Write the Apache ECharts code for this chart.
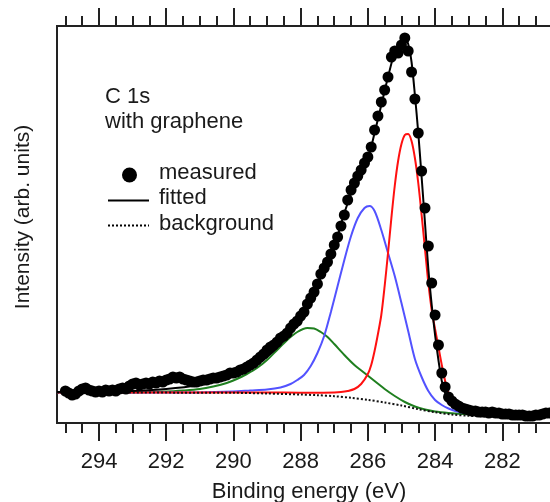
<!DOCTYPE html>
<html>
<head>
<meta charset="utf-8">
<script src="https://cdn.jsdelivr.net/npm/echarts@6/dist/echarts.min.js"></script>
<style>
html,body{margin:0;padding:0;background:#fff;}
#chart{width:550px;height:502px;}
</style>
</head>
<body>
<div id="chart"></div>
<script>
// ---- data (binding energy in eV, intensity in arbitrary units) ----
const measuredEnergy = [
295.0,294.9,294.8,294.7,294.6,294.5,294.4,294.3,294.2,294.1,
294.0,293.9,293.8,293.7,293.6,293.5,293.4,293.3,293.2,293.1,
293.0,292.9,292.8,292.7,292.6,292.5,292.4,292.3,292.2,292.1,
292.0,291.9,291.8,291.7,291.6,291.5,291.4,291.3,291.2,291.1,
291.0,290.9,290.8,290.7,290.6,290.5,290.4,290.3,290.2,290.1,
290.0,289.9,289.8,289.7,289.6,289.5,289.4,289.3,289.2,289.1,
289.0,288.9,288.8,288.7,288.6,288.5,288.4,288.3,288.2,288.1,
288.0,287.9,287.8,287.7,287.6,287.5,287.4,287.3,287.2,287.1,
287.0,286.9,286.8,286.7,286.6,286.5,286.4,286.3,286.2,286.1,
286.0,285.9,285.8,285.7,285.6,285.5,285.4,285.3,285.2,285.1,
285.0,284.9,284.8,284.7,284.6,284.5,284.4,284.3,284.2,284.1,
284.0,283.9,283.8,283.7,283.6,283.5,283.4,283.3,283.2,283.1,
283.0,282.9,282.8,282.7,282.6,282.5,282.4,282.3,282.2,282.1,
282.0,281.9,281.8,281.7,281.6,281.5,281.4,281.3,281.2,281.1,
281.0,280.9,280.8,280.7,280.6
];
const measuredIntensity = [
32,30,28,29,32,34,35,33,32,31,
32,31,33,32,33,32,34,35,34,37,
39,40,38,39,40,39,41,40,42,41,
43,44,46,45,46,44,43,42,41,41,
42,43,43,44,45,45,46,47,48,50,
50,51,53,54,56,58,60,63,66,69,
73,76,78,81,85,87,90,95,99,102,
107,111,119,125,131,139,149,155,161,169,
178,186,197,208,223,233,240,247,253,260,
266,276,293,307,321,333,346,366,372,370,
378,385,372,351,324,290,252,215,177,140,
108,78,50,36,26,22,19,17,15,14,
13,12,12,11,11,11,10,11,10,10,
9,9,9,8,8,8,8,7,7,7,
8,8,9,10,10
];

const fittedEnergy = [295.25,294.0,293.0,292.0,291.0,290.5,290.0,289.5,289.0,288.6,288.2,287.9,287.6,287.3,287.0,286.7,286.4,286.2,286.0,285.8,285.6,285.4,285.2,285.05,284.9,284.8,284.7,284.6,284.5,284.4,284.3,284.2,284.1,284.0,283.9,283.8,283.7,283.6,283.5,283.3,283.0,282.6,282.0,281.0,280.6];
const fittedIntensity = [31,31,32,34,38,42,47,55,66,79,96,112,132,152,176,210,238,252,264,290,318,346,371,380,384,379,361,328,290,246,200,154,118,88,63,42,30,23,19,15,12.5,11,9.5,8.5,8];

const redEnergy = [295.25,293.0,291.0,289.5,288.5,287.6,287.0,286.8,286.6,286.4,286.2,286.0,285.9,285.8,285.7,285.6,285.5,285.4,285.3,285.2,285.1,285.0,284.9,284.8,284.7,284.6,284.5,284.4,284.3,284.2,284.1,284.0,283.9,283.8,283.7,283.6,283.5,283.4,283.3,283.2,283.0,282.6,282.0,280.6];
const redIntensity = [30.5,30.5,30.5,30.5,30.4,30.3,30.6,31,32,34,39,49,58,72,89,108,137,170,205,237,262,279,288,289,282,265,240,208,174,140,113,94,76,58,42,30,21,16,13,11,9.5,8,7,6.5];

const blueEnergy = [295.25,292.0,291.0,290.0,289.5,289.0,288.6,288.3,288.1,287.9,287.7,287.5,287.3,287.1,286.9,286.7,286.5,286.3,286.1,285.95,285.8,285.6,285.4,285.2,285.0,284.8,284.6,284.4,284.2,284.0,283.8,283.6,283.4,283.0,282.5,282.0,280.6];
const blueIntensity = [30.5,30.5,30.6,31.5,32.5,33.5,35.5,39,43,48,57,70,87,111,137,163,187,205,215,217,212,193,170,147,120,92,64,46,32,23,18,14.5,12,9.5,8,7,6.5];

const greenEnergy = [295.25,293.0,292.0,291.5,291.0,290.6,290.2,289.9,289.6,289.3,289.0,288.7,288.4,288.1,287.8,287.6,287.4,287.2,287.0,286.7,286.4,286.1,285.8,285.5,285.2,284.9,284.6,284.3,284.0,283.6,283.2,282.5,282.0,280.6];
const greenIntensity = [30.5,30.7,31.5,32.5,34,36.5,40,44,49,55,63,73,83,91,95,94.5,91,86,79,68,58,50,42,34,27,21,16.5,13.5,11.5,10,9,7.8,7,6.5];

const backgroundEnergy = [295.25,290.0,289.0,288.0,287.5,287.0,286.5,286.0,285.5,285.0,284.5,284.0,283.5,283.0,282.5,281.0,280.6];
const backgroundIntensity = [30.5,30.2,29.5,28.5,27.8,26.8,25.2,23.2,20.5,17.5,13.8,10.8,8.5,7.2,6.6,6.5,6.5];

const majorTicks = [282,284,286,288,290,292,294];
const minorTicks = [281,281.5,282.5,283,283.5,284.5,285,285.5,286.5,287,287.5,288.5,289,289.5,290.5,291,291.5,292.5,293,293.5,294.5,295];

const xMin = 280.58, xMax = 295.25;
const yMin = 0, yMax = 397;

function pairs(xs, ys) { return xs.map((x, i) => [x, ys[i]]); }

const FONT = '"Liberation Sans", Arial, sans-serif';
const INK = '#1a1a1a';
const AXC = '#222';

function xAx(pos, ticks, len, labels) {
  return {
    type: 'value', position: pos, inverse: true, min: xMin, max: xMax, gridIndex: 0,
    axisLine: { show: true, onZero: false, lineStyle: { color: AXC, width: 2 } },
    axisTick: { show: true, inside: false, length: len, lineStyle: { color: AXC, width: 2 }, customValues: ticks },
    axisLabel: labels ? { show: true, customValues: ticks, margin: 28, fontSize: 22, color: INK, fontFamily: FONT } : { show: false },
    splitLine: { show: false }, minorTick: { show: false }
  };
}

function curve(name, xs, ys, color, z, dash) {
  return { name: name, type: 'line', data: pairs(xs, ys), smooth: 0.3, showSymbol: false, silent: true,
    lineStyle: { color: color, width: 2, type: dash || 'solid' }, z: z };
}

const chart = echarts.init(document.getElementById('chart'), null, { renderer: 'canvas' });
chart.setOption({
  animation: false,
  backgroundColor: '#fff',
  grid: { left: 57, right: 0, top: 26, bottom: 79, containLabel: false },
  xAxis: [
    xAx('bottom', majorTicks, 18, true),
    xAx('bottom', minorTicks, 10, false),
    xAx('top', majorTicks, 18, false),
    xAx('top', minorTicks, 10, false)
  ],
  yAxis: {
    type: 'value', min: yMin, max: yMax,
    axisLine: { show: true, onZero: false, lineStyle: { color: AXC, width: 2 } },
    axisTick: { show: false }, axisLabel: { show: false }, splitLine: { show: false }
  },
  series: [
    curve('green', greenEnergy, greenIntensity, '#1f7f1f', 2),
    curve('blue', blueEnergy, blueIntensity, '#5252ff', 2),
    curve('red', redEnergy, redIntensity, '#ff1010', 2),
    curve('background', backgroundEnergy, backgroundIntensity, '#111', 3, [2, 2]),
    curve('fitted', fittedEnergy, fittedIntensity, '#000', 4),
    { name: 'measured', type: 'scatter', data: pairs(measuredEnergy, measuredIntensity), symbol: 'circle', symbolSize: 11,
      itemStyle: { color: '#000', opacity: 1 }, z: 5 }
  ],
  graphic: [
    { type: 'text', x: 23, y: 217, rotation: Math.PI / 2,
      style: { text: 'Intensity (arb. units)', font: '21px ' + FONT, fill: INK, align: 'center', verticalAlign: 'middle' } },
    { type: 'text', x: 309, y: 492,
      style: { text: 'Binding energy (eV)', font: '22px ' + FONT, fill: INK, align: 'center', verticalAlign: 'middle' } },
    { type: 'text', x: 105, y: 97,
      style: { text: 'C 1s', font: '22px ' + FONT, fill: INK, align: 'left', verticalAlign: 'middle' } },
    { type: 'text', x: 105, y: 122,
      style: { text: 'with graphene', font: '22px ' + FONT, fill: INK, align: 'left', verticalAlign: 'middle' } },
    { type: 'circle', shape: { cx: 129.5, cy: 175, r: 7.5 }, style: { fill: '#000' } },
    { type: 'text', x: 159, y: 173,
      style: { text: 'measured', font: '22px ' + FONT, fill: INK, align: 'left', verticalAlign: 'middle' } },
    { type: 'line', shape: { x1: 108, y1: 200.5, x2: 149, y2: 200.5 }, style: { stroke: '#000', lineWidth: 2 } },
    { type: 'text', x: 159, y: 198,
      style: { text: 'fitted', font: '22px ' + FONT, fill: INK, align: 'left', verticalAlign: 'middle' } },
    { type: 'line', shape: { x1: 108, y1: 225.5, x2: 149, y2: 225.5 }, style: { stroke: '#000', lineWidth: 2, lineDash: [2, 2] } },
    { type: 'text', x: 159, y: 224,
      style: { text: 'background', font: '22px ' + FONT, fill: INK, align: 'left', verticalAlign: 'middle' } }
  ]
});
</script>
</body>
</html>
